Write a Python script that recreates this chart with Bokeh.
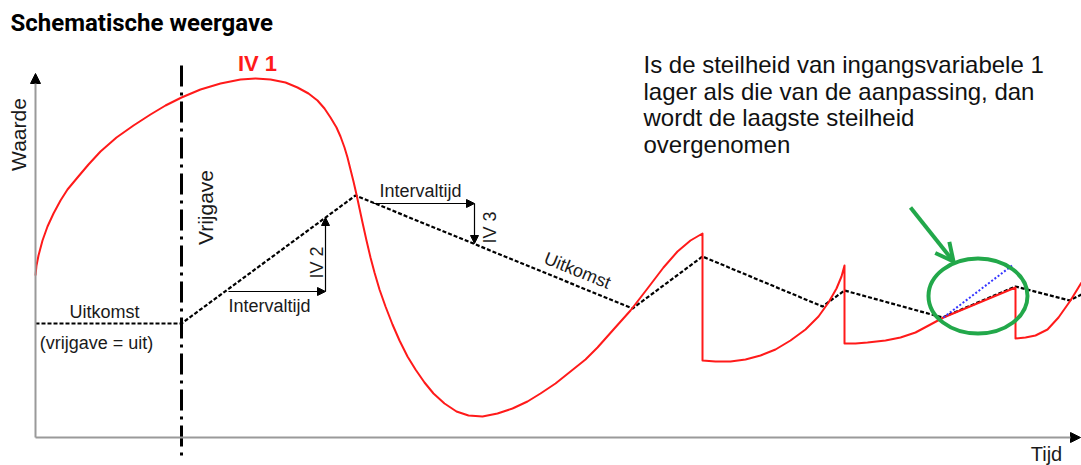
import math
from bokeh.plotting import figure
from bokeh.models import Range1d, Arrow, NormalHead, OpenHead
from bokeh.core.properties import value
from bokeh.embed import file_html
from bokeh.resources import INLINE

# ---------------- data (schematic units) ----------------
# IV 1 (red input variable)
iv1_x = [35, 36, 38, 42, 47, 53, 60, 67, 77, 88, 100, 116, 133, 150, 165, 181,
         200, 220, 240, 255, 270, 285, 297, 308, 317, 324, 330, 336, 340, 344,
         347, 350, 353, 356, 359, 362, 366, 370, 374, 379, 385, 392, 399, 407,
         415, 424, 433, 444, 456, 468, 482, 497, 512, 527, 540, 555, 570, 585,
         597, 613, 630, 647, 663, 677, 690, 702,
         702, 715, 730, 745, 760, 775, 790, 805, 818, 828, 836, 841, 844,
         844, 855, 867, 885, 900, 915, 930, 943,
         1015, 1015, 1025, 1035, 1047, 1058, 1070, 1081]
iv1_y = [275, 265, 255, 240, 226, 213, 200, 189, 177, 164, 151, 137, 125, 114,
         105, 97, 89, 83, 79, 78, 79, 82, 87, 93, 100, 108, 117, 127, 136, 147,
         157, 169, 181, 194, 208, 222, 240, 257, 272, 289, 306, 324, 340, 356,
         369, 382, 393, 403, 411, 415, 416, 413, 408, 401, 393, 383, 371, 359,
         347, 329, 310, 288, 267, 251, 240, 233,
         360, 361, 361, 359, 355, 349, 340, 329, 316, 302, 288, 276, 265,
         343, 343, 342, 340, 337, 332, 324, 317,
         287, 338, 337, 335, 329, 317, 300, 282]

# Uitkomst (black dotted result)
uit_x = [35, 181, 355, 632, 702, 822, 844, 942, 1015, 1069, 1081]
uit_y = [323, 323, 195, 308, 256, 306, 290, 317, 286, 300, 294]

# blue dotted slope of the adjustment
blue_x = [943, 1013]
blue_y = [317, 264]

# axes
axis_origin = (35, 437)
y_axis_top = 73
x_axis_end = 1080

# vrijgave line
vrij_x = [181, 181]
vrij_y = [65, 455]

# interval annotations: (x_start, y_start, x_end, y_end)
iv2_h = (228, 291, 325, 291)
iv2_v = (325, 291, 325, 217)
iv3_h = (373, 203, 474, 203)
iv3_v = (474, 203, 474, 243)

# green highlight
ell_center = (977.5, 295.5)
ell_size = (99, 75)
green_arrow = (910, 207, 953, 261)

para_lines = ["Is de steilheid van ingangsvariabele 1",
              "lager als die van de aanpassing, dan",
              "wordt de laagste steilheid",
              "overgenomen"]
para_centers = [64, 90.5, 117, 143.5]

# ---------------- figure ----------------
p = figure(width=1081, height=465, output_backend="svg", toolbar_location=None,
           x_range=Range1d(0, 1081), y_range=Range1d(465, 0),
           min_border=0, tools="")
p.axis.visible = False
p.grid.visible = False
p.outline_line_color = None
p.background_fill_color = "white"
p.border_fill_color = "white"

ARIAL = value("Liberation Sans")
BLACK = "#1a1a1a"
GREEN = "#22a84a"
RED = "#ff1a1a"

# axes (gray lines with black heads)
ox, oy = axis_origin
p.add_layout(Arrow(end=NormalHead(size=10, fill_color="black", line_color="black"),
                   x_start=ox, y_start=oy, x_end=ox, y_end=y_axis_top,
                   line_color="#9a9a9a", line_width=2))
p.add_layout(Arrow(end=NormalHead(size=10, fill_color="black", line_color="black"),
                   x_start=ox, y_start=oy, x_end=x_axis_end, y_end=oy,
                   line_color="#9a9a9a", line_width=2))

# vrijgave dash-dot line
p.line(vrij_x, vrij_y, line_color="black", line_width=3, line_dash="21 6 3 6")

# result dotted line
p.line(uit_x, uit_y, line_color="black", line_width=2.2, line_dash="4 2")

# IV1 red curve
p.line(iv1_x, iv1_y, line_color=RED, line_width=2, line_join="round")

# blue dotted
p.line(blue_x, blue_y, line_color="#3535ff", line_width=2, line_dash="2 2")

# interval arrows
for seg in (iv2_h, iv2_v, iv3_h, iv3_v):
    p.add_layout(Arrow(end=NormalHead(size=8, fill_color="black", line_color="black"),
                       x_start=seg[0], y_start=seg[1], x_end=seg[2], y_end=seg[3],
                       line_color="black", line_width=1.2))

# green ellipse + arrow
p.ellipse(x=[ell_center[0]], y=[ell_center[1]], width=[ell_size[0]], height=[ell_size[1]],
          fill_color=None, line_color=GREEN, line_width=4)
p.add_layout(Arrow(end=OpenHead(size=18, line_color=GREEN, line_width=4),
                   x_start=green_arrow[0], y_start=green_arrow[1],
                   x_end=green_arrow[2], y_end=green_arrow[3],
                   line_color=GREEN, line_width=4))

# ---------------- texts ----------------
p.text(x=[10], y=[22], text=["Schematische weergave"], text_font=value("Roboto"),
       text_font_style="bold", text_font_size="24px", text_color="black",
       text_align="left", text_baseline="middle")

p.text(x=[257], y=[63], text=["IV 1"], text_font=ARIAL, text_font_style="bold",
       text_font_size="22px", text_color=RED, text_align="center", text_baseline="middle")

p.text(x=[18], y=[134], text=["Waarde"], text_font=ARIAL, text_font_size="21px",
       text_color=BLACK, text_align="center", text_baseline="middle", angle=math.pi / 2)
p.text(x=[205], y=[207], text=["Vrijgave"], text_font=ARIAL, text_font_size="21px",
       text_color=BLACK, text_align="center", text_baseline="middle", angle=math.pi / 2)
p.text(x=[1046], y=[453], text=["Tijd"], text_font=ARIAL, text_font_size="20px",
       text_color=BLACK, text_align="center", text_baseline="middle")

p.text(x=[104], y=[311], text=["Uitkomst"], text_font=ARIAL, text_font_size="18px",
       text_color=BLACK, text_align="center", text_baseline="middle")
p.text(x=[96], y=[342], text=["(vrijgave = uit)"], text_font=ARIAL, text_font_size="18px",
       text_color=BLACK, text_align="center", text_baseline="middle")

p.text(x=[269, 420], y=[305, 190], text=["Intervaltijd", "Intervaltijd"], text_font=ARIAL,
       text_font_size="18px", text_color=BLACK, text_align="center", text_baseline="middle")
p.text(x=[316, 489], y=[262, 227], text=["IV 2", "IV 3"], text_font=ARIAL,
       text_font_size="18px", text_color=BLACK, text_align="center", text_baseline="middle",
       angle=math.pi / 2)

p.text(x=[577], y=[270], text=["Uitkomst"], text_font=ARIAL, text_font_size="18px",
       text_color=BLACK, text_align="center", text_baseline="middle", angle=-0.385)

p.text(x=[643] * len(para_lines), y=para_centers, text=para_lines, text_font=ARIAL,
       text_font_size="24px", text_color="#111111", text_align="left",
       text_baseline="middle")

open("out.html", "w").write(file_html(p, INLINE))
